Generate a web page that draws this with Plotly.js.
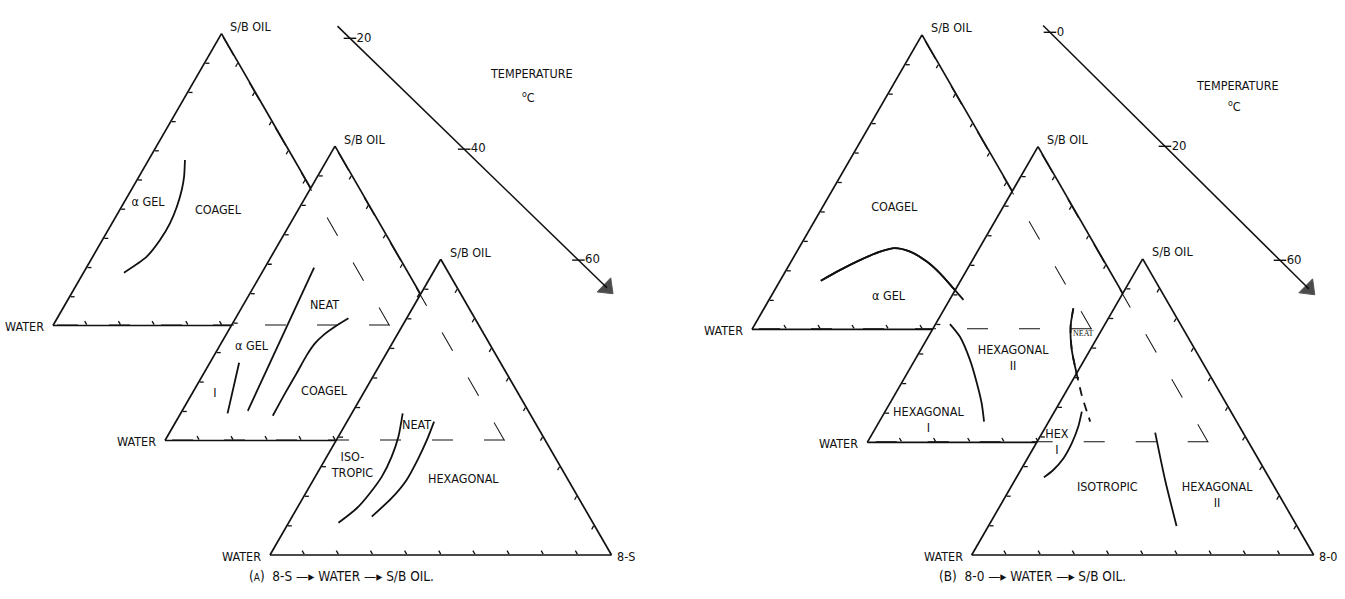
<!DOCTYPE html>
<html>
<head>
<meta charset="utf-8">
<script src="https://cdn.plot.ly/plotly-3.0.1.min.js"></script>
<style>
  html, body { margin: 0; padding: 0; background: #fff; }
  #plot { width: 1345px; height: 599px; }
</style>
</head>
<body>
<div id="plot"></div>
<script>
// Phase boundaries, in percent.
// oil = S/B OIL (top corner), water = WATER (left corner), surf = 8-S / 8-0 (right corner)

// (A) 8-S, 20 C
const a20GelOil   = [56.7, 51.0, 46.4, 40.7, 35.0, 29.3, 23.6, 18.1];
const a20GelWater = [32.5, 35.6, 38.6, 42.9, 47.8, 53.6, 60.4, 69.9];
const a20GelSurf  = [10.8, 13.4, 15.0, 16.4, 17.2, 17.1, 16.0, 12.0];
const a20Names = ['\u03b1 GEL', 'COAGEL'];
const a20NameOil = [42.0, 39.3];
const a20NameWater = [50.8, 31.4];
const a20NameSurf = [7.2, 29.3];

// (A) 8-S, 40 C
const a40IsoOil = [26.4, 9.2];
const a40IsoWater = [65.0, 77.0];
const a40IsoSurf = [8.6, 13.8];
const a40GelOil = [58.7, 10.1];
const a40GelWater = [26.8, 70.6];
const a40GelSurf = [14.5, 19.3];
const a40NeatOil   = [41.5, 38.7, 35.8, 33.0, 29.0, 22.8, 16.0, 8.4];
const a40NeatWater = [25.3, 30.6, 35.5, 39.4, 43.8, 49.9, 56.7, 64.1];
const a40NeatSurf  = [33.2, 30.7, 28.7, 27.6, 27.2, 27.3, 27.3, 27.5];
const a40Names = ['NEAT', '\u03b1 GEL', 'I', 'COAGEL'];
const a40NameOil = [45.8, 31.9, 16.0, 16.6];
const a40NameWater = [30.2, 58.6, 77.3, 44.9];
const a40NameSurf = [24.0, 9.5, 6.7, 38.5];

// (A) 8-S, 60 C
const a60IsoOil   = [47.9, 40.0, 33.2, 26.5, 20.9, 15.8, 10.9];
const a60IsoWater = [37.2, 42.4, 47.8, 54.0, 60.3, 66.7, 74.5];
const a60IsoSurf  = [14.9, 17.6, 19.0, 19.5, 18.8, 17.5, 14.6];
const a60HexOil   = [45.1, 38.9, 32.7, 25.4, 19.2, 13.0];
const a60HexWater = [29.4, 34.6, 40.2, 47.3, 54.8, 63.7];
const a60HexSurf  = [25.5, 26.5, 27.1, 27.3, 26.0, 23.3];
const a60Names = ['NEAT', 'ISO-<br>TROPIC', 'HEXAGONAL'];
const a60NameOil = [43.7, 30.1, 25.4];
const a60NameWater = [35.2, 60.8, 30.7];
const a60NameSurf = [21.1, 9.1, 43.9];

// (B) 8-0, 0 C
const b0GelOil   = [16.5, 20.1, 23.5, 26.4, 27.6, 26.4, 23.0, 19.0, 13.9, 10.0];
const b0GelWater = [71.5, 64.1, 56.5, 49.1, 44.3, 40.3, 37.1, 35.2, 33.8, 32.8];
const b0GelSurf  = [12.0, 15.8, 20.0, 24.5, 28.1, 33.3, 39.9, 45.8, 52.3, 57.2];
const b0Names = ['COAGEL', '\u03b1 GEL'];
const b0NameOil = [41.1, 11.1];
const b0NameWater = [37.6, 54.3];
const b0NameSurf = [21.3, 34.6];

// (B) 8-0, 20 C
const b20HexOil   = [40.0, 35.7, 27.8, 20.0, 13.2, 7.0];
const b20HexWater = [55.8, 55.0, 56.0, 57.9, 59.9, 62.3];
const b20HexSurf  = [4.2, 9.3, 16.2, 22.1, 26.9, 30.7];
const b20NeatOil   = [45.3, 39.1, 31.2, 22.8, 16.0, 10.4, 7.0];
const b20NeatWater = [17.0, 20.9, 24.5, 27.2, 29.2, 30.5, 31.2];
const b20NeatSurf  = [37.7, 40.0, 44.3, 50.0, 54.8, 59.1, 61.8];
const b20Names = ['HEXAGONAL<br>II', 'HEXAGONAL<br>I'];
const b20NameOil = [28.2, 7.2];
const b20NameWater = [43.2, 78.5];
const b20NameSurf = [28.6, 14.3];

// (B) 8-0, 60 C
const b60HexOil   = [48.4, 43.3, 37.7, 32.7, 28.7, 26.2];
const b60HexWater = [43.6, 47.2, 51.9, 56.8, 61.8, 65.8];
const b60HexSurf  = [8.0, 9.5, 10.4, 10.5, 9.5, 8.0];
const b60IsoOil   = [41.3, 25.3, 9.8];
const b60IsoWater = [25.7, 30.8, 35.2];
const b60IsoSurf  = [33.0, 43.9, 55.0];
const b60Names = ['HEX<br>I', 'ISOTROPIC', 'HEXAGONAL<br>II'];
const b60NameOil = [37.8, 22.5, 19.9];
const b60NameWater = [56.2, 49.1, 18.3];
const b60NameSurf = [6.0, 28.4, 61.8];

// the temperature arrows: three labelled steps each
const tempSteps = [0, 1, 2];
const tempLabelsA = ['20', '40', '60'];
const tempLabelsB = ['0', '20', '60'];
const arrowSpanA = [-0.11, 2.25];
const arrowSpanB = [-0.06, 2.25];

// ---------------------------------------------------------------
const W = 1345, H = 599;
const FONT = '"DejaVu Sans Condensed", "Liberation Sans Narrow", "Arial Narrow", sans-serif';
const INK = '#111111';
const HIDDEN = '21px,31px';
const HIDDEN_CURVE = '9px,7px';

// page placement of each triangle: left corner x, base y, side (px)
const place = {
  A20: [53, 325.5, 337], A40: [165, 440.5, 340], A60: [270, 555, 341.5],
  B0: [752, 329.3, 340], B20: [867.3, 442.3, 341.4], B60: [971.7, 555, 342]
};
// origin and px per step of each temperature arrow
const arrowPlace = { A: [350, 38.3, 114.2, 110.9], B: [1050, 32.3, 115, 114] };
const stepRange = [-0.2, 2.4];

function domainOf(p) {
  const [l, b, s] = p;
  const h = s * Math.sqrt(3) / 2;
  return { x: [l / W, (l + s) / W], y: [1 - b / H, 1 - (b - h) / H] };
}

function axis(show) {
  return {
    showline: show, linecolor: INK, linewidth: 1.7,
    showgrid: false, ticks: show ? 'inside' : '', ticklen: 4, tickwidth: 1.3, tickcolor: INK,
    tickmode: 'array', tickvals: [10, 20, 30, 40, 50, 60, 70, 80, 90],
    showticklabels: false, title: { text: '' }
  };
}

function ternary(key, ghost) {
  return {
    domain: domainOf(place[key]), sum: 100,
    bgcolor: ghost ? 'rgba(0,0,0,0)' : '#ffffff',
    aaxis: axis(!ghost), baxis: axis(!ghost), caxis: axis(!ghost)
  };
}

function curve(sub, oil, water, surf, dash, width) {
  return {
    type: 'scatterternary', subplot: sub, mode: 'lines',
    a: oil, b: water, c: surf, cliponaxis: false, hoverinfo: 'skip',
    line: { color: INK, width: width || 1.8, dash: dash || 'solid', shape: 'spline', smoothing: 0.7 }
  };
}

function names(sub, text, oil, water, surf, font) {
  return {
    type: 'scatterternary', subplot: sub, mode: 'text',
    a: oil, b: water, c: surf, text: text, textposition: 'middle center',
    cliponaxis: false, hoverinfo: 'skip',
    textfont: font || { family: FONT, size: 12.5, color: INK }
  };
}

// edges of a triangle that disappear behind the next one: base and right side, from the right corner
function hiddenEdges(sub) {
  return [
    curve(sub, [0, 0], [0, 100], [100, 0], HIDDEN, 2),
    curve(sub, [0, 100], [0, 0], [100, 0], HIDDEN, 2)
  ];
}

const data = [
  // (A)
  curve('ternary', a20GelOil, a20GelWater, a20GelSurf),
  names('ternary', a20Names, a20NameOil, a20NameWater, a20NameSurf),

  curve('ternary2', a40IsoOil, a40IsoWater, a40IsoSurf),
  curve('ternary2', a40GelOil, a40GelWater, a40GelSurf),
  curve('ternary2', a40NeatOil, a40NeatWater, a40NeatSurf),
  names('ternary2', a40Names, a40NameOil, a40NameWater, a40NameSurf),

  ...hiddenEdges('ternary3'),

  curve('ternary4', a60IsoOil, a60IsoWater, a60IsoSurf),
  curve('ternary4', a60HexOil, a60HexWater, a60HexSurf),
  names('ternary4', a60Names, a60NameOil, a60NameWater, a60NameSurf),

  ...hiddenEdges('ternary5'),

  // (B)
  curve('ternary6', b0GelOil, b0GelWater, b0GelSurf),
  names('ternary6', b0Names, b0NameOil, b0NameWater, b0NameSurf),

  curve('ternary7', b20HexOil, b20HexWater, b20HexSurf),
  curve('ternary7', b20NeatOil, b20NeatWater, b20NeatSurf),
  names('ternary7', b20Names, b20NameOil, b20NameWater, b20NameSurf),
  names('ternary7', ['NEAT'], [36.5], [18.5], [45.0],
        { family: '"Liberation Serif", serif', size: 8, color: INK }),

  ...hiddenEdges('ternary8'),
  curve('ternary8', b0GelOil, b0GelWater, b0GelSurf),

  curve('ternary9', b60HexOil, b60HexWater, b60HexSurf),
  curve('ternary9', b60IsoOil, b60IsoWater, b60IsoSurf),
  names('ternary9', b60Names, b60NameOil, b60NameWater, b60NameSurf),

  ...hiddenEdges('ternary10'),
  curve('ternary10', b20NeatOil, b20NeatWater, b20NeatSurf, HIDDEN_CURVE)
];

// temperature arrows on their own hidden axes
function arrowTraces(xa, ya, span, labels) {
  return [
    {
      type: 'scatter', xaxis: xa, yaxis: ya, mode: 'lines+markers',
      x: span, y: span, hoverinfo: 'skip', cliponaxis: false,
      line: { color: INK, width: 1.5 },
      marker: { symbol: ['circle', 'triangle-up'], size: [0, 17], color: '#000', angleref: 'previous' }
    },
    {
      type: 'scatter', xaxis: xa, yaxis: ya, mode: 'markers+text',
      x: tempSteps, y: tempSteps, text: labels, textposition: 'middle right',
      hoverinfo: 'skip', cliponaxis: false,
      marker: { symbol: 'line-ew', size: 9, line: { color: INK, width: 1.4 } },
      textfont: { family: FONT, size: 13, color: INK }
    }
  ];
}
data.push(...arrowTraces('x', 'y', arrowSpanA, tempLabelsA));
data.push(...arrowTraces('x2', 'y2', arrowSpanB, tempLabelsB));

function arrowAxes(p) {
  const [x0, y0, dx, dy] = p;
  const xd = [(x0 + stepRange[0] * dx) / W, (x0 + stepRange[1] * dx) / W];
  const yd = [1 - (y0 + stepRange[1] * dy) / H, 1 - (y0 + stepRange[0] * dy) / H];
  return [
    { domain: xd, range: stepRange, visible: false, fixedrange: true },
    { domain: yd, range: [stepRange[1], stepRange[0]], visible: false, fixedrange: true }
  ];
}
const [axA, ayA] = arrowAxes(arrowPlace.A);
const [axB, ayB] = arrowAxes(arrowPlace.B);

// corner labels
const annotations = [];
function note(text, x, y, xanchor, size) {
  annotations.push({
    text: text, xref: 'paper', yref: 'paper', x: x / W, y: 1 - y / H,
    xanchor: xanchor || 'center', yanchor: 'middle', showarrow: false,
    font: { family: FONT, size: size || 12.5, color: INK }
  });
}
Object.keys(place).forEach(function (k) {
  const [l, b, s] = place[k];
  const apexX = l + s / 2, apexY = b - s * Math.sqrt(3) / 2;
  note('S/B OIL', apexX + 7, apexY - 7, 'left');
  note('WATER', l - 7, b + 1, 'right');
});
note('8-S', place.A60[0] + place.A60[2] + 3, place.A60[1] + 1, 'left');
note('8-0', place.B60[0] + place.B60[2] + 3, place.B60[1] + 1, 'left');
note('TEMPERATURE', 531.7, 73.3);
note('<sup>o</sup>C', 528.3, 96.7);
note('TEMPERATURE', 1237.7, 85.7);
note('<sup>o</sup>C', 1234, 105.7);
note('(<span style="font-size:10px">A</span>)  8-S \u2014\u25b8 WATER \u2014\u25b8 S/B OIL.', 342, 576, 'center', 13.5);
note('(B)  8-0 \u2014\u25b8 WATER \u2014\u25b8 S/B OIL.', 1032, 576, 'center', 13.5);

const layout = {
  width: W, height: H,
  margin: { l: 0, r: 0, t: 0, b: 0 },
  paper_bgcolor: '#ffffff', plot_bgcolor: 'rgba(0,0,0,0)',
  showlegend: false, hovermode: false,
  ternary: ternary('A20'), ternary2: ternary('A40'), ternary3: ternary('A20', true),
  ternary4: ternary('A60'), ternary5: ternary('A40', true),
  ternary6: ternary('B0'), ternary7: ternary('B20'), ternary8: ternary('B0', true),
  ternary9: ternary('B60'), ternary10: ternary('B20', true),
  xaxis: Object.assign(axA, { anchor: 'y' }), yaxis: Object.assign(ayA, { anchor: 'x' }),
  xaxis2: Object.assign(axB, { anchor: 'y2' }), yaxis2: Object.assign(ayB, { anchor: 'x2' }),
  annotations: annotations
};

Plotly.newPlot('plot', data, layout, { staticPlot: true, displayModeBar: false });
</script>
</body>
</html>
